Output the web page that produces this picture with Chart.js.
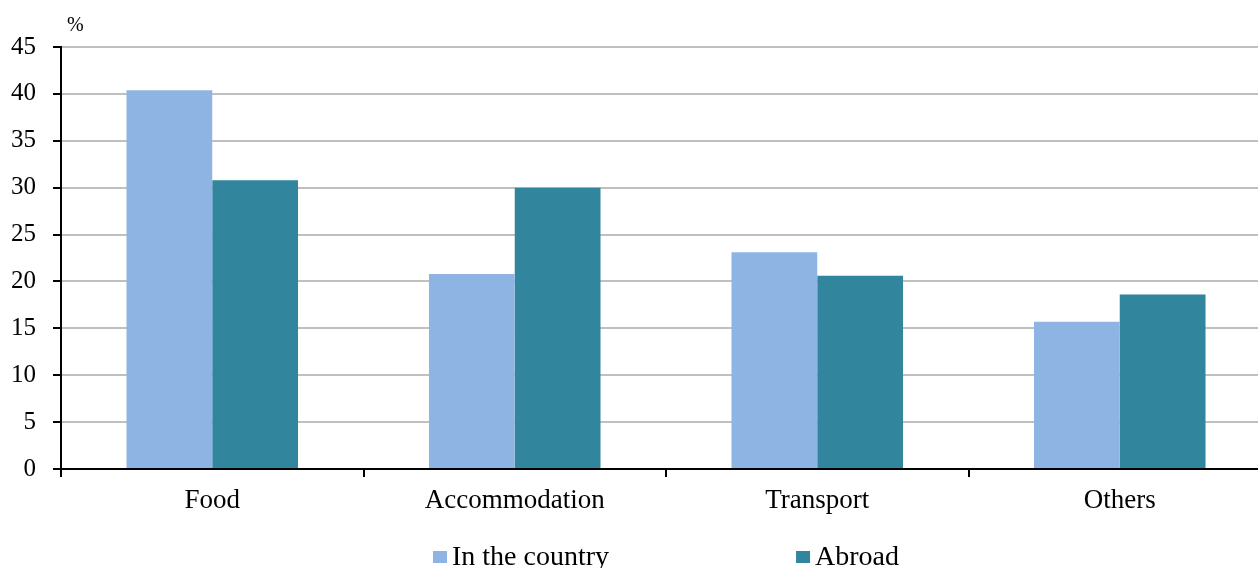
<!DOCTYPE html>
<html>
<head>
<meta charset="utf-8">
<title>Tourist spending structure</title>
<script src="https://cdn.jsdelivr.net/npm/chart.js@4/dist/chart.umd.min.js"></script>
<style>
  html, body { margin: 0; padding: 0; background: #fff; overflow: hidden; }
  #wrap { width: 1271px; height: 568px; }
</style>
</head>
<body>
<div id="wrap"><canvas id="chart" width="1271" height="568"></canvas></div>
<script>
// Spending categories and shares (%)
const categories = ['Food', 'Accommodation', 'Transport', 'Others'];
const inCountry = [40.4, 20.8, 23.1, 15.7];
const abroad = [30.8, 30.0, 20.6, 18.6];
const seriesNames = ['In the country', 'Abroad'];
const yTicks = [0, 5, 10, 15, 20, 25, 30, 35, 40, 45];

const SERIF = '"Liberation Serif", "Times New Roman", serif';
const colors = ['#8EB4E3', '#31859C'];

// Unit label above the value axis and a compact legend under the chart
const extras = {
  id: 'extras',
  afterDraw(chart) {
    const ctx = chart.ctx;
    const area = chart.chartArea;
    ctx.save();
    ctx.fillStyle = '#000';
    ctx.font = '20px ' + SERIF;
    ctx.textAlign = 'left';
    ctx.textBaseline = 'middle';
    ctx.fillText('%', area.left + 6, 26);

    ctx.font = '28px ' + SERIF;
    const box = 14, boxH = 12, gap = 5, spacing = 187;
    const items = chart.data.datasets.map(ds => ({
      label: ds.label, color: ds.backgroundColor,
      w: ctx.measureText(ds.label).width
    }));
    let total = 0;
    items.forEach((it, i) => { total += box + gap + it.w + (i < items.length - 1 ? spacing : 0); });
    let x = (area.left + area.right) / 2 - total / 2;
    const cy = 557;
    items.forEach(it => {
      ctx.fillStyle = it.color;
      ctx.fillRect(x, cy - boxH / 2, box, boxH);
      ctx.fillStyle = '#000';
      ctx.textBaseline = 'alphabetic';
      ctx.fillText(it.label, x + box + gap, 565);
      x += box + gap + it.w + spacing;
    });
    ctx.restore();
  }
};

new Chart(document.getElementById('chart'), {
  type: 'bar',
  data: {
    labels: categories,
    datasets: [
      { label: seriesNames[0], data: inCountry, backgroundColor: colors[0] },
      { label: seriesNames[1], data: abroad, backgroundColor: colors[1] }
    ]
  },
  options: {
    responsive: false,
    animation: false,
    devicePixelRatio: 1,
    layout: { padding: { top: 47, right: 0, bottom: 0, left: 0 } },
    datasets: { bar: { categoryPercentage: 0.567, barPercentage: 1.0 } },
    plugins: { legend: { display: false }, tooltip: { enabled: false } },
    scales: {
      x: {
        afterFit(scale) { scale.height = 99; },
        grid: {
          offset: true, drawOnChartArea: false, drawTicks: true,
          tickLength: 8, tickColor: '#000', lineWidth: 2
        },
        border: { color: '#000', width: 2 },
        ticks: { color: '#000', font: { family: SERIF, size: 27 }, padding: 8 }
      },
      y: {
        min: 0, max: 45,
        afterFit(scale) { scale.width = 61; },
        afterBuildTicks(scale) { scale.ticks = yTicks.map(v => ({ value: v })); },
        grid: { color: '#C0C0C0', lineWidth: 2, tickColor: '#000', tickLength: 8 },
        border: { color: '#000', width: 2 },
        ticks: { color: '#000', font: { family: SERIF, size: 25 }, padding: 17 }
      }
    }
  },
  plugins: [extras]
});
</script>
</body>
</html>
